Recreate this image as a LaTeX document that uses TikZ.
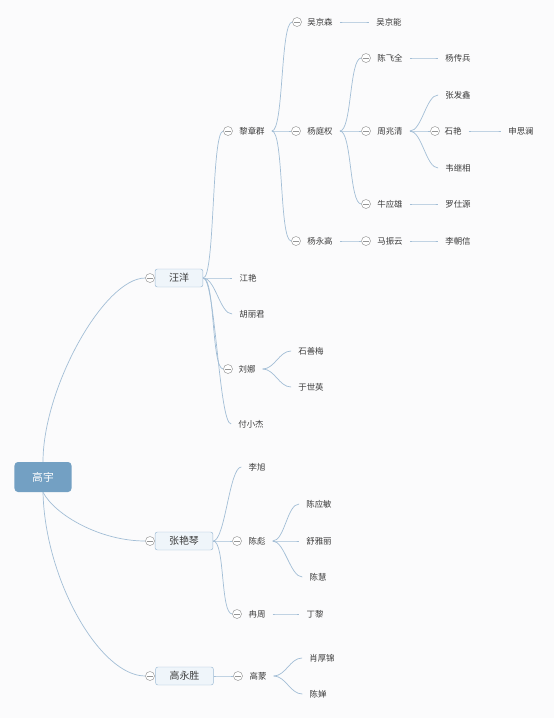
\documentclass[tikz,border=0pt]{standalone}
\usepackage{fontspec}
\setmainfont{Noto Sans CJK SC}
\usepackage{tikz}
\usetikzlibrary{positioning}

\definecolor{linkc}{RGB}{163,190,214}
\definecolor{rootc}{RGB}{115,160,195}
\definecolor{topicfill}{RGB}{239,245,250}
\definecolor{topicdraw}{RGB}{157,187,213}
\definecolor{textc}{RGB}{60,60,60}
\definecolor{foldc}{RGB}{150,150,150}
\definecolor{bgc}{RGB}{251,251,252}

\begin{document}
\begin{tikzpicture}[x=0.03cm, y=-0.03cm,
    root/.style={fill=rootc, rounded corners=3pt, minimum width=1.71cm, minimum height=0.9cm, text=white, font=\fontsize{9.2}{11}\selectfont},
    topic/.style={draw=topicdraw, fill=topicfill, rounded corners=2pt, inner xsep=0.42cm, minimum height=0.54cm, text=textc, font=\fontsize{8.5}{10}\selectfont},
    sub/.style={inner xsep=0.21cm, inner ysep=1pt, text=textc, font=\fontsize{7.2}{9}\selectfont},
    fold/.style={circle, draw=foldc, fill=white, line width=0.4pt, inner sep=0pt, minimum size=0.27cm,
        path picture={\draw[foldc, line width=0.4pt] ([xshift=-2.2pt]path picture bounding box.center) -- ([xshift=2.2pt]path picture bounding box.center);}},
    link/.style={draw=linkc, line width=0.6pt}]
                \fill[bgc] (0,0) rectangle (554,718);
                \useasboundingbox (0,0) rectangle (554,718);

                \node[root] (gy) at (43,477) {高宇};

                \node[topic] (wy) at (179,278) {汪洋};
                \node[topic] (zyq) at (184,541) {张艳琴};
                \node[topic] (gys) at (184.5,676) {高永胜};
                \node[fold] (f-wy) at (150,278) {};
                \node[fold] (f-zyq) at (150,541) {};
                \node[fold] (f-gys) at (150,676) {};

                % 汪洋
                \node[sub] (lzq) at (252,131) {黎章群};
                \node[fold] (f-lzq) at (228,131) {};
                \node[sub] (jy) at (248,278) {江艳};
                \node[sub] (hlj) at (252,314) {胡丽君};
                \node[sub] (ln) at (247,369) {刘娜};
                \node[fold] (f-ln) at (228,369) {};
                \node[sub] (fxj) at (251,424) {付小杰};

                \node[sub] (wjs) at (320,22) {吴京森};
                \node[fold] (f-wjs) at (297,22) {};
                \node[sub] (wjn) at (389,22) {吴京能};
                \node[sub] (ytq) at (320,131) {杨庭权};
                \node[fold] (f-ytq) at (296,131) {};
                \node[sub] (yyg) at (320,241) {杨永高};
                \node[fold] (f-yyg) at (296,241) {};

                \node[sub] (cfq) at (390,58) {陈飞全};
                \node[fold] (f-cfq) at (366,58) {};
                \node[sub] (ycb) at (458,58) {杨传兵};
                \node[sub] (zzq) at (390,131) {周兆清};
                \node[fold] (f-zzq) at (366,131) {};
                \node[sub] (nyx) at (390,204) {牛应雄};
                \node[fold] (f-nyx) at (366,204) {};
                \node[sub] (lsy) at (458,204) {罗仕源};

                \node[sub] (zfx) at (458,95) {张发鑫};
                \node[sub] (sy) at (453,131) {石艳};
                \node[fold] (f-sy) at (435,131) {};
                \node[sub] (ssl) at (521,131) {申思澜};
                \node[sub] (wjx) at (458,168) {韦继相};

                \node[sub] (mzy) at (390,241) {马振云};
                \node[fold] (f-mzy) at (366,241) {};
                \node[sub] (lcx) at (458,241) {李朝信};

                \node[sub] (ssm) at (311,351) {石善梅};
                \node[sub] (ysy) at (311,387) {于世英};

                % 张艳琴
                \node[sub] (lx) at (257,467) {李旭};
                \node[sub] (cb) at (257,541) {陈彪};
                \node[fold] (f-cb) at (237,541) {};
                \node[sub] (rz) at (257,614) {冉周};
                \node[fold] (f-rz) at (237,614) {};
                \node[sub] (cym) at (319,504) {陈应敏};
                \node[sub] (syl) at (319,541) {舒雅丽};
                \node[sub] (ch) at (318,577) {陈慧};
                \node[sub] (dl) at (315,614) {丁黎};

                % 高永胜
                \node[sub] (gm) at (258,676) {高蒙};
                \node[fold] (f-gm) at (238,676) {};
                \node[sub] (xhj) at (322,658) {肖厚锦};
                \node[sub] (cc) at (318,694) {陈婵};

                \draw[link] (gy.north) .. controls (43,388) and (104,278) .. (f-wy.west);
                \draw[link] (gy.south) .. controls (55,515) and (100,541) .. (f-zyq.west);
                \draw[link] (gy.south) .. controls (45,580) and (100,676) .. (f-gys.west);

                \foreach \a/\b in {wy/f-lzq, wy/jy, wy/hlj, wy/f-ln, wy/fxj,
                    lzq/f-wjs, lzq/f-ytq, lzq/f-yyg, wjs/wjn,
                    ytq/f-cfq, ytq/f-zzq, ytq/f-nyx, cfq/ycb, nyx/lsy,
                    zzq/zfx, zzq/f-sy, zzq/wjx, sy/ssl, yyg/f-mzy, mzy/lcx,
                    ln/ssm, ln/ysy,
                    zyq/lx, zyq/f-cb, zyq/f-rz, cb/cym, cb/syl, cb/ch, rz/dl,
                    gys/f-gm, gm/xhj, gm/cc}
                    \draw[link] (\a.east) .. controls +(12,0) and +(-12,0) .. (\b.west);
            \end{tikzpicture}
\end{document}
